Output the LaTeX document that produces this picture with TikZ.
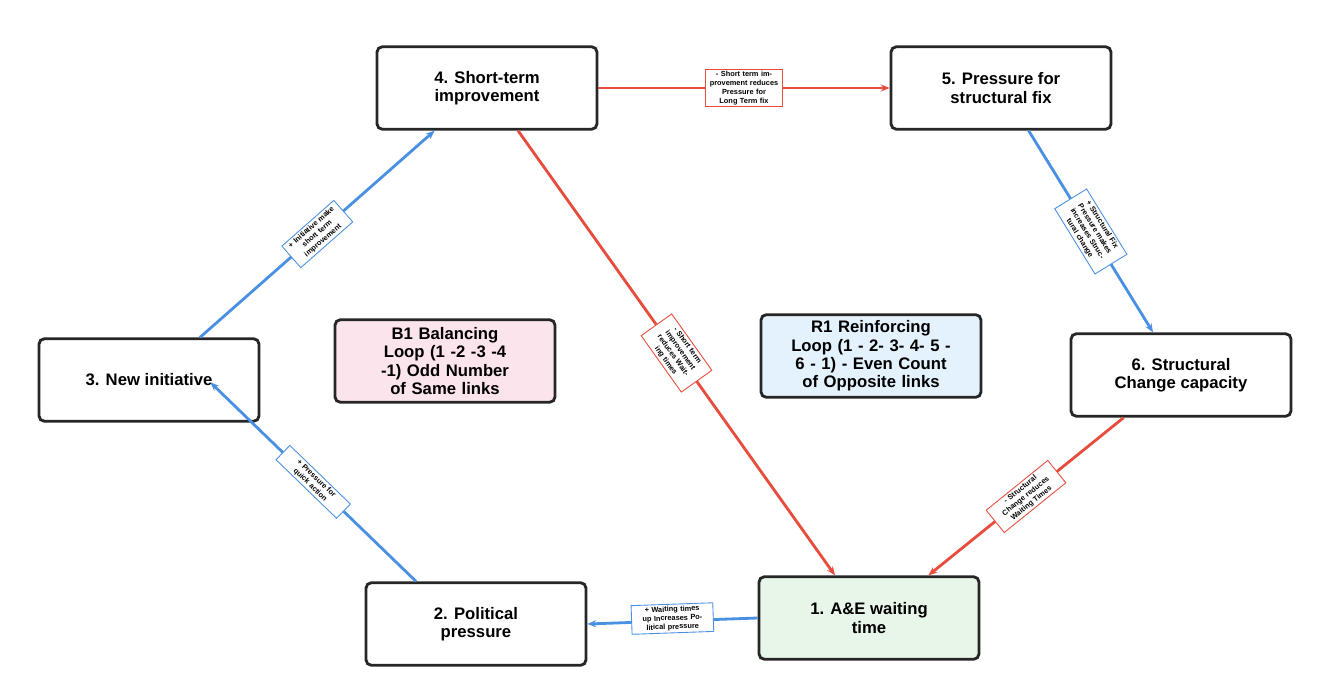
\documentclass[tikz,border=0pt]{standalone}
\usepackage{fontspec}
\setmainfont{Liberation Sans}
\usetikzlibrary{arrows.meta, calc}
\definecolor{linkred}{RGB}{231,76,60}
\definecolor{linkblue}{RGB}{74,144,226}
\definecolor{notepink}{RGB}{252,228,236}
\definecolor{noteblue}{RGB}{227,242,253}
\definecolor{stagegreen}{RGB}{232,245,233}
\tikzset{
  x=0.02cm, y=-0.02cm,
  >={Stealth[length=5pt,width=4pt]},
  stage/.style={draw=black!85, line width=1.6pt, rounded corners=3pt, fill=white,
    minimum width=4.4cm, minimum height=1.65cm, align=center, font=\bfseries\fontsize{9.5}{10.5}\selectfont},
  loopnote/.style={stage, text width=3.3cm},
  same/.style={->, draw=linkblue, line width=1.6pt},
  opp/.style={->, draw=linkred, line width=1.6pt},
  tag/.style={sloped, draw, fill=white, line width=0.5pt, inner sep=1.2pt, align=center,
    font=\bfseries\fontsize{4.2}{5}\selectfont},
}
\begin{document}
\begin{tikzpicture}
  \useasboundingbox (0,0) rectangle (1322,696);
  % stages of the loop
  \node[stage] (short) at (487,88) {4. Short-term\\improvement};
  \node[stage] (press) at (1001,88) {5. Pressure for\\structural fix};
  \node[stage] (init) at (149,380) {3. New initiative};
  \node[stage] (capac) at (1181,375) {6. Structural\\Change capacity};
  \node[stage] (polit) at (476,624) {2. Political\\pressure};
  \node[stage, fill=stagegreen] (wait) at (869,618) {1. A\&E waiting\\time};
  % loop notes
  \node[loopnote, fill=notepink] (bal) at (445,361) {B1 Balancing Loop (1 -2 -3 -4 -1) Odd Number of Same links};
  \node[loopnote, fill=noteblue] (rein) at (871,356) {R1 Reinforcing Loop (1 - 2- 3- 4- 5 - 6 - 1) - Even Count of Opposite links};
  % links
  \draw[opp] (short.east) -- node[tag, draw=linkred, text width=1.45cm] {- Short term improvement reduces Pressure for Long Term fix} (press.west);
  \draw[same] ($(press.south west)+(139,0)$) -- node[tag, draw=linkblue, text width=1.45cm] {+ Structural Fix Pressure makes increases Structural change} ($(capac.north)+(-28,0)$);
  \draw[opp] ($(capac.south west)+(54,0)$) -- node[tag, draw=linkred, text width=1.5cm] {- Structural Change reduces Waiting Times} ($(wait.north east)+(-52,0)$);
  \draw[opp] ($(short.south)+(31,0)$) -- node[tag, draw=linkred, text width=1.3cm] {- Short term improvement reduces Waiting times} ($(wait.north)+(-34,0)$);
  \draw[same] (wait.west) -- node[tag, draw=linkblue, text width=1.55cm, above=-7pt] {+ Waiting times up Increases Political pressure} (polit.east);
  \draw[same] ($(polit.north)+(-60,0)$) -- node[tag, draw=linkblue, text width=1.6cm] {+ Pressure for quick action} ($(init.north east)+(-50,45)$);
  \draw[same] ($(init.north)+(51,0)$) -- node[tag, draw=linkblue, text width=1.3cm] {+ Initiative make short term improvement} ($(short.south west)+(59,0)$);
\end{tikzpicture}
\end{document}
